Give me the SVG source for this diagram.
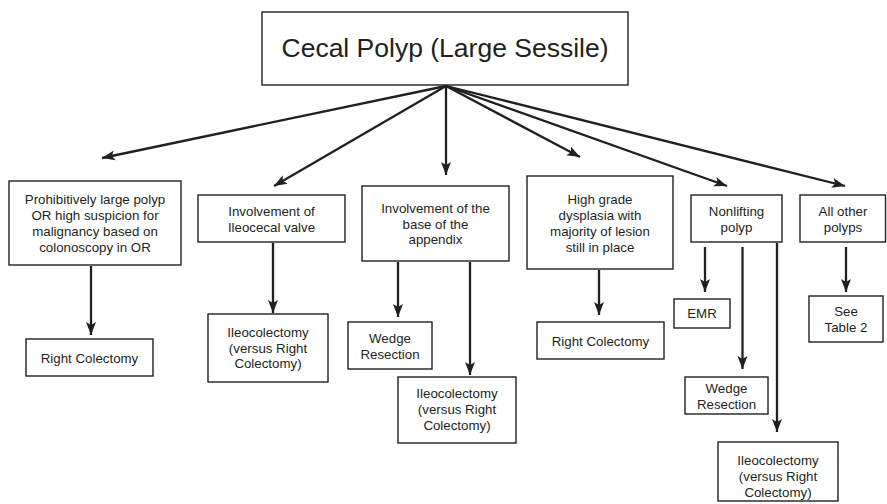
<svg xmlns="http://www.w3.org/2000/svg" width="887" height="504" viewBox="0 0 887 504">
<defs>
<marker id="ah" markerUnits="userSpaceOnUse" markerWidth="14" markerHeight="11" refX="13" refY="5" orient="auto" overflow="visible">
<path d="M0,0 L13,5 L0,10 L3,5 z" fill="#231f20"/>
</marker>
<style>
rect{fill:#fff;stroke:#231f20;stroke-width:1.4}
text{font-family:"Liberation Sans",Arial,sans-serif;font-size:13.3px;fill:#231f20;text-anchor:middle}
.t{font-size:26.5px}
.c line{stroke:#231f20;stroke-width:2.3;marker-end:url(#ah)}
</style>
</defs>
<rect x="0" y="0" width="887" height="504" style="fill:#fff;stroke:none"/>
<g id="root"><rect x="262" y="12" width="366" height="73"/><text class="t" x="445" y="57">Cecal Polyp (Large Sessile)</text></g>
<g id="a"><rect x="9" y="181" width="172" height="84"/><text x="95" y="204">Prohibitively large polyp</text><text x="95" y="220">OR high suspicion for</text><text x="95" y="236">malignancy based on</text><text x="95" y="252">colonoscopy in OR</text></g>
<g id="a2"><rect x="26" y="339" width="127" height="37"/><text x="89.5" y="363">Right Colectomy</text></g>
<g id="b"><rect x="198" y="195" width="147" height="47"/><text x="271.5" y="216">Involvement of</text><text x="271.5" y="232">Ileocecal valve</text></g>
<g id="b2"><rect x="208" y="314" width="120" height="68"/><text x="268" y="337">Ileocolectomy</text><text x="268" y="352.5">(versus Right</text><text x="268" y="368">Colectomy)</text></g>
<g id="c"><rect x="362" y="186" width="147" height="75"/><text x="435.5" y="213">Involvement of the</text><text x="435.5" y="228.5">base of the</text><text x="435.5" y="244">appendix</text></g>
<g id="c2"><rect x="348" y="322" width="84" height="47"/><text x="390" y="343">Wedge</text><text x="390" y="358.5">Resection</text></g>
<g id="c3"><rect x="398" y="377" width="118" height="66"/><text x="457" y="398">Ileocolectomy</text><text x="457" y="414">(versus Right</text><text x="457" y="430">Colectomy)</text></g>
<g id="d"><rect x="527" y="176" width="146" height="93"/><text x="600" y="203.5">High grade</text><text x="600" y="219.5">dysplasia with</text><text x="600" y="235.5">majority of lesion</text><text x="600" y="251.5">still in place</text></g>
<g id="d2"><rect x="537" y="322" width="127" height="37"/><text x="600.5" y="346">Right Colectomy</text></g>
<g id="e"><rect x="691" y="195" width="91" height="47"/><text x="736.5" y="216">Nonlifting</text><text x="736.5" y="232">polyp</text></g>
<g id="e1"><rect x="674" y="299" width="56" height="29"/><text x="702" y="318">EMR</text></g>
<g id="e2"><rect x="685" y="377" width="83" height="37"/><text x="726.5" y="393">Wedge</text><text x="726.5" y="408.5">Resection</text></g>
<g id="e3"><rect x="718" y="442" width="120" height="59"/><text x="778" y="465">Ileocolectomy</text><text x="778" y="481">(versus Right</text><text x="778" y="497">Colectomy)</text></g>
<g id="f"><rect x="800" y="195" width="85.5" height="47"/><text x="843" y="216">All other</text><text x="843" y="232">polyps</text></g>
<g id="f2"><rect x="809" y="296" width="74" height="46"/><text x="846" y="316">See</text><text x="846" y="332">Table 2</text></g>
<g id="connectors" class="c">
<line x1="446" y1="86" x2="102" y2="158"/>
<line x1="446" y1="86" x2="274" y2="186"/>
<line x1="446" y1="86" x2="446" y2="175"/>
<line x1="446" y1="86" x2="580" y2="157"/>
<line x1="446" y1="86" x2="727" y2="186"/>
<line x1="446" y1="86" x2="845" y2="186"/>
<line x1="91" y1="266" x2="91" y2="335"/>
<line x1="273" y1="243" x2="273" y2="313"/>
<line x1="398" y1="262" x2="398" y2="317"/>
<line x1="470" y1="262" x2="470" y2="375"/>
<line x1="599" y1="270" x2="599" y2="315"/>
<line x1="705" y1="247" x2="705" y2="292"/>
<line x1="742.5" y1="247" x2="742.5" y2="369"/>
<line x1="777" y1="243" x2="777" y2="432"/>
<line x1="846" y1="247" x2="846" y2="292"/>
</g>
</svg>
